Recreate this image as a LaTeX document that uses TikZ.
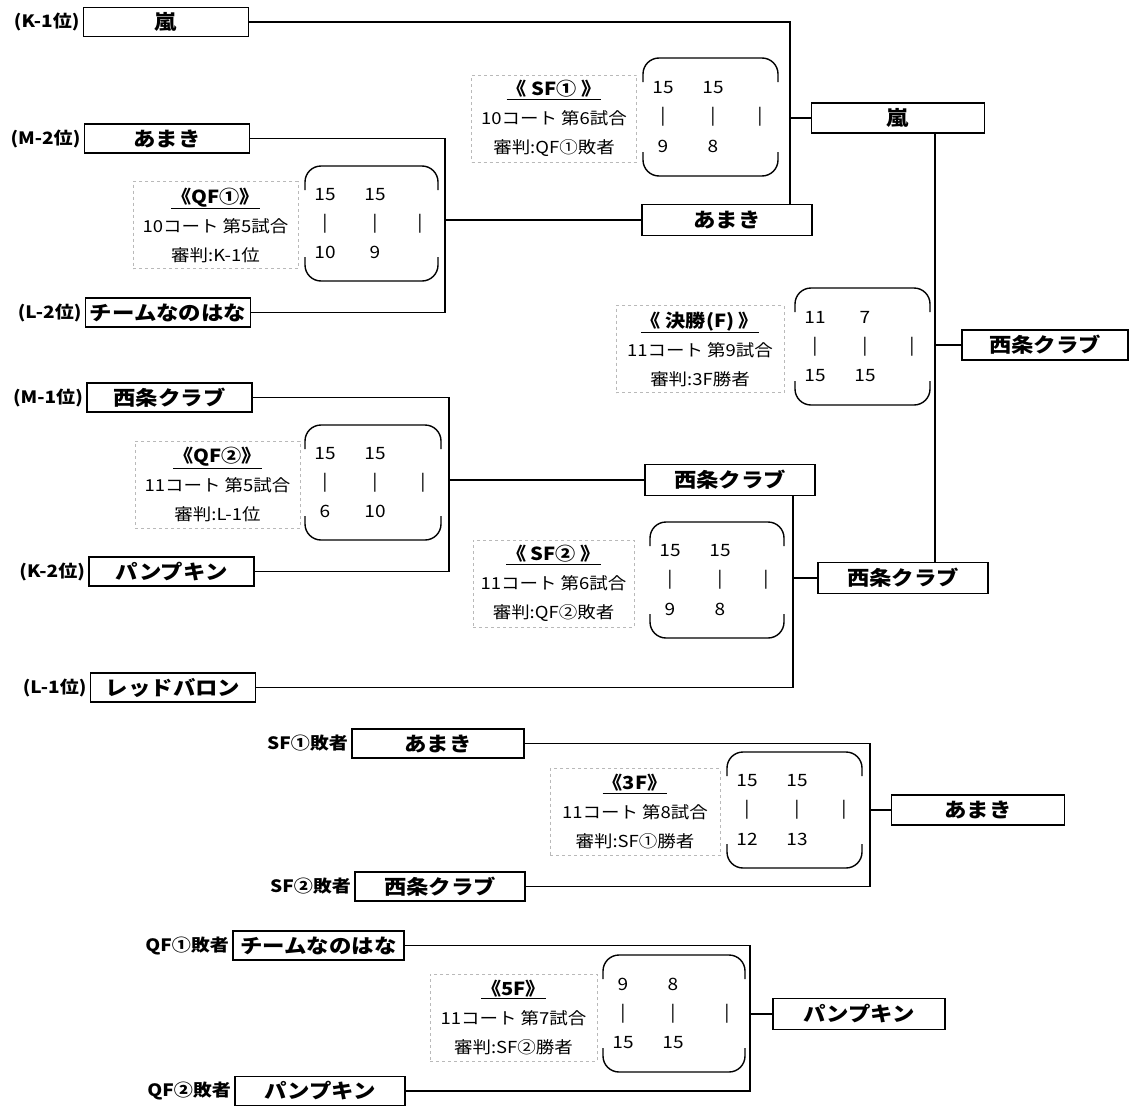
\documentclass[tikz,border=0pt]{standalone}
\usepackage{fontspec}
\setmainfont{Noto Sans CJK JP}[FakeStretch=1.12]
\usetikzlibrary{calc}
\newcommand\ttl[1]{{\fontsize{18}{29}\selectfont\bfseries\underline{#1}}}
\newcommand\scbox[9]{%
  \draw[brk] (#2,#3+24) -- (#2,#3) -- (#4,#3) -- (#4,#3+24);
  \draw[brk] (#2,#5-24) -- (#2,#5) -- (#4,#5) -- (#4,#5-24);
  \node[sc] (#1-a1) at (#2+20,{(#3+#5)/2-29}) {#6};
  \node[sc] (#1-a2) at (#2+70,{(#3+#5)/2-29}) {#7};
  \node[sc] (#1-v1) at (#2+20,{(#3+#5)/2}) {|};
  \node[sc] (#1-v2) at (#2+70,{(#3+#5)/2}) {|};
  \node[sc] (#1-v3) at (#4-18,{(#3+#5)/2}) {|};
  \node[sc] (#1-b1) at (#2+20,{(#3+#5)/2+29}) {#8};
  \node[sc] (#1-b2) at (#2+70,{(#3+#5)/2+29}) {#9};
}
\tikzset{
  team/.style={draw, line width=1.8pt, minimum width=165pt, minimum height=29pt, inner sep=0pt, font=\fontsize{20}{22}\selectfont\bfseries},
  info/.style={draw=gray!55, dashed, line width=0.6pt, minimum width=165pt, minimum height=87pt, inner sep=0pt, align=center, font=\fontsize{16.5}{29}\selectfont},
  lbl/.style={anchor=east, inner sep=3pt, font=\fontsize{17}{19}\selectfont\bfseries},
  sc/.style={inner sep=0pt, font=\fontsize{17}{19}\selectfont},
  conn/.style={line width=1.2pt},
  brk/.style={line width=1.4pt, rounded corners=16pt},
}
\begin{document}
\begin{tikzpicture}[x=1pt,y=-1pt]
\useasboundingbox (0,0) rectangle (1131,1108);
\fill[white] (0,0) rectangle (1131,1108);
% first-round teams
\node[team] (k1) at (166,22) {嵐};
\node[team] (m2) at (167,138.5) {あまき};
\node[team] (l2) at (168,312.5) {チームなのはな};
\node[team] (m1) at (169.5,397.5) {西条クラブ};
\node[team] (k2) at (171.5,571.5) {パンプキン};
\node[team] (l1) at (173,687.5) {レッドバロン};
\node[lbl] (k1l) at (k1.west) {(K-1位)};
\node[lbl] (m2l) at (m2.west) {(M-2位)};
\node[lbl] (l2l) at (l2.west) {(L-2位)};
\node[lbl] (m1l) at (m1.west) {(M-1位)};
\node[lbl] (k2l) at (k2.west) {(K-2位)};
\node[lbl] (l1l) at (l1.west) {(L-1位)};
% winners
\node[team, minimum width=170pt, minimum height=31pt] (qf1w) at (727,220) {あまき};
\node[team, minimum width=173pt, minimum height=30pt] (sf1w) at (898,118) {嵐};
\node[team, minimum width=170pt, minimum height=31pt] (qf2w) at (730,480) {西条クラブ};
\node[team, minimum width=170pt, minimum height=31pt] (sf2w) at (903,578) {西条クラブ};
\node[team, minimum width=166pt, minimum height=30pt] (champ) at (1045,345) {西条クラブ};
\node[team, minimum width=173pt, minimum height=30pt] (tfw) at (978,810) {あまき};
\node[team, minimum width=172pt, minimum height=31pt] (ffw) at (859,1014) {パンプキン};
% lower brackets
\node[team, minimum width=172pt] (sf1l) at (438,743.5) {あまき};
\node[team, minimum width=170pt] (sf2l) at (440,886.5) {西条クラブ};
\node[team, minimum width=171pt] (qf1l) at (318.5,945.5) {チームなのはな};
\node[team, minimum width=170pt] (qf2l) at (320,1091) {パンプキン};
\node[lbl] (sf1ll) at (sf1l.west) {SF①敗者};
\node[lbl] (sf2ll) at (sf2l.west) {SF②敗者};
\node[lbl] (qf1ll) at (qf1l.west) {QF①敗者};
\node[lbl] (qf2ll) at (qf2l.west) {QF②敗者};
% connectors
\coordinate (j1) at (445,220);
\draw[conn] (m2.east) -| (j1) |- (l2.east);
\draw[conn] (j1) -- (qf1w.west);
\coordinate (j2) at (790,118);
\draw[conn] (k1.east) -| (j2) -- (j2 |- qf1w.north);
\draw[conn] (j2) -- (sf1w.west);
\coordinate (j3) at (935,345);
\draw[conn] (j3 |- sf1w.south) -- (j3 |- sf2w.north);
\draw[conn] (j3) -- (champ.west);
\coordinate (j4) at (449,480);
\draw[conn] (m1.east) -| (j4) |- (k2.east);
\draw[conn] (j4) -- (qf2w.west);
\coordinate (j5) at (793,578);
\draw[conn] (j5 |- qf2w.south) -- (j5) |- (l1.east);
\draw[conn] (j5) -- (sf2w.west);
\coordinate (j6) at (870,810);
\draw[conn] (sf1l.east) -| (j6) |- (sf2l.east);
\draw[conn] (j6) -- (tfw.west);
\coordinate (j7) at (750,1014);
\draw[conn] (qf1l.east) -| (j7) |- (qf2l.east);
\draw[conn] (j7) -- (ffw.west);
% info boxes
\node[info] (qf1i) at (215.5,225) {\ttl{《QF①》}\\10コート 第5試合\\審判:K-1位};
\node[info] (sf1i) at (554,118.5) {\ttl{《 SF① 》}\\10コート 第6試合\\審判:QF①敗者};
\node[info, minimum width=168pt] (fi) at (700,349) {\ttl{《 決勝(F) 》}\\11コート 第9試合\\審判:3F勝者};
\node[info] (qf2i) at (217.5,484.5) {\ttl{《QF②》}\\11コート 第5試合\\審判:L-1位};
\node[info, minimum width=161pt] (sf2i) at (553.5,583.5) {\ttl{《 SF② 》}\\11コート 第6試合\\審判:QF②敗者};
\node[info, minimum width=170pt] (tfi) at (635,812) {\ttl{《3F》}\\11コート 第8試合\\審判:SF①勝者};
\node[info, minimum width=167pt] (ffi) at (513.5,1017.5) {\ttl{《5F》}\\11コート 第7試合\\審判:SF②勝者};
% score boxes
\scbox{qf1s}{305}{166}{438}{281}{15}{15}{10}{9}
\scbox{sf1s}{643}{58}{778}{176}{15}{15}{9}{8}
\scbox{fs}{795}{288}{930}{405}{11}{7}{15}{15}
\scbox{qf2s}{305}{425}{441}{540}{15}{15}{6}{10}
\scbox{sf2s}{650}{522}{784}{638}{15}{15}{9}{8}
\scbox{tfs}{727}{752}{862}{868}{15}{15}{12}{13}
\scbox{ffs}{603}{955}{745}{1072}{9}{8}{15}{15}
\end{tikzpicture}
\end{document}
